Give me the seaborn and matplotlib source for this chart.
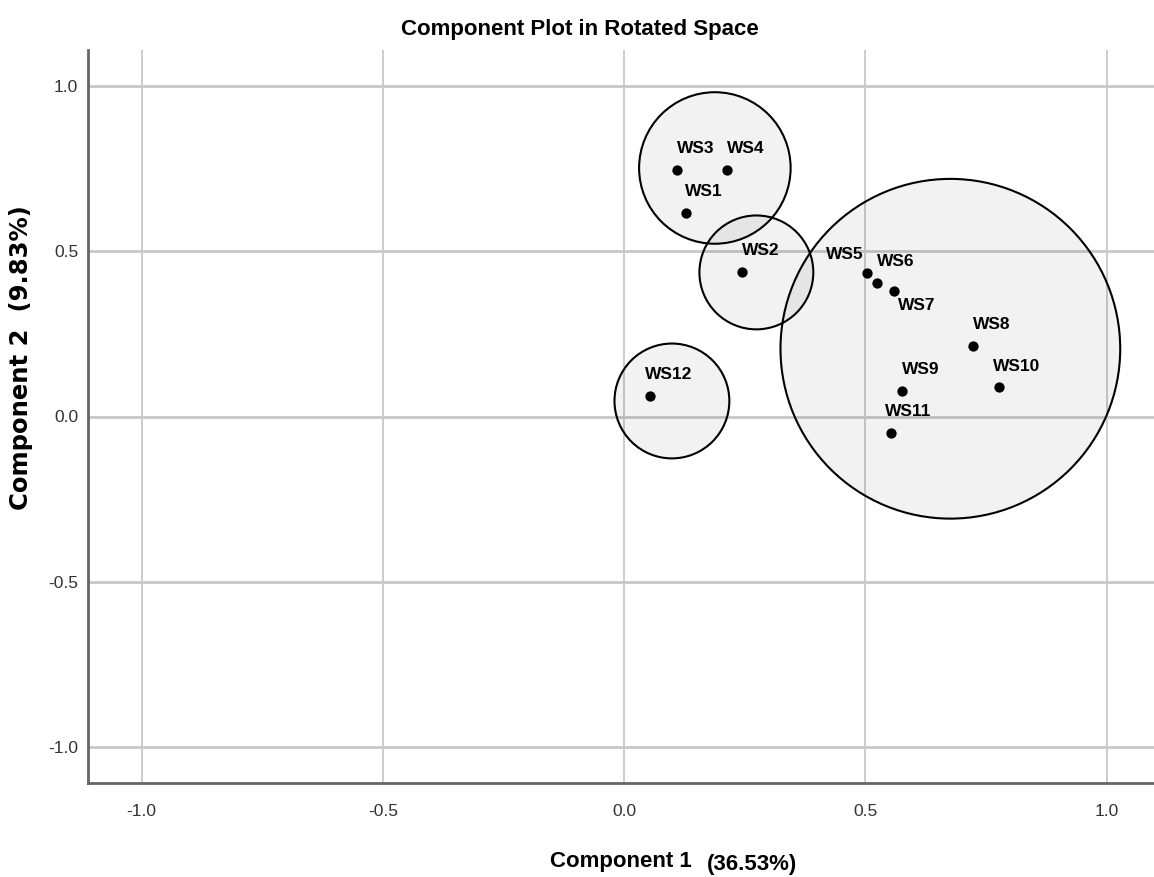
import matplotlib
matplotlib.use('Agg')
import matplotlib.pyplot as plt
from matplotlib.patches import Ellipse
import seaborn as sns
import pandas as pd

# component loadings
labels = ['WS1', 'WS2', 'WS3', 'WS4', 'WS5', 'WS6', 'WS7', 'WS8', 'WS9', 'WS10', 'WS11', 'WS12']
comp1 = [0.128, 0.245, 0.109, 0.213, 0.504, 0.524, 0.559, 0.723, 0.575, 0.776, 0.552, 0.054]
comp2 = [0.616, 0.437, 0.745, 0.745, 0.434, 0.404, 0.380, 0.214, 0.076, 0.088, -0.049, 0.062]

# label offsets in points (dx, dy) and alignment
label_dx = [-1, 0, 0, 0, -3, 0, 3, 0, 0, -4, -4, -4]
label_dy = [10, 10, 10, 10, 8, 10, -5, 10, 10, 10, 10, 10]
label_ha = ['left', 'left', 'left', 'left', 'right', 'left', 'left', 'left', 'left', 'left', 'left', 'left']
label_va = ['bottom', 'bottom', 'bottom', 'bottom', 'bottom', 'bottom', 'top', 'bottom', 'bottom', 'bottom', 'bottom', 'bottom']

# group circles: centre (x, y) and radius in x-axis units
circle_x = [0.188, 0.274, 0.099, 0.676]
circle_y = [0.752, 0.436, 0.047, 0.205]
circle_r = [0.157, 0.118, 0.119, 0.352]

ticks = [-1.0, -0.5, 0.0, 0.5, 1.0]
tick_labels = ['-1.0', '-0.5', '0.0', '0.5', '1.0']

df = pd.DataFrame({'c1': comp1, 'c2': comp2, 'label': labels})

sns.set_style('white')
fam = ['Liberation Sans', 'DejaVu Sans']
plt.rcParams['font.family'] = fam
plt.rcParams['text.color'] = 'black'

fig = plt.figure(figsize=(11.54, 8.77), dpi=100)
ax = fig.add_axes([88 / 1154, 1 - 783 / 877, 1 - 88 / 1154, (783 - 50) / 877])

xmin, xmax = -1.111, 1.098
ymin, ymax = -1.109, 1.109
ax.set_xlim(xmin, xmax)
ax.set_ylim(ymin, ymax)

# px per unit, to keep the circles round
bbox = ax.get_window_extent()
sx = bbox.width / (xmax - xmin)
sy = bbox.height / (ymax - ymin)

for v in ticks:
    ax.axvline(v, color='#c8c8c8', lw=1.3, zorder=0)
    ax.axhline(v, color='#c8c8c8', lw=2.0, zorder=0)

for cx, cy, r in zip(circle_x, circle_y, circle_r):
    e = Ellipse((cx, cy), width=2 * r, height=2 * r * sx / sy,
                facecolor=(0, 0, 0, 0.05), edgecolor='black', lw=1.5, zorder=1)
    ax.add_patch(e)

sns.scatterplot(data=df, x='c1', y='c2', ax=ax, color='black', s=55,
                edgecolor='black', linewidth=0, zorder=3, legend=False)

for i, lab in enumerate(labels):
    ax.annotate(lab, (comp1[i], comp2[i]), xytext=(label_dx[i], label_dy[i]),
                textcoords='offset points', ha=label_ha[i], va=label_va[i],
                fontsize=12.5, fontweight='bold', color='black', zorder=4)

ax.set_xticks(ticks)
ax.set_xticklabels(tick_labels)
ax.set_yticks(ticks)
ax.set_yticklabels(tick_labels)
ax.tick_params(axis='y', length=0, labelsize=12.5, labelcolor='#333333', pad=7)
ax.tick_params(axis='x', length=0, labelsize=12.5, labelcolor='#333333', pad=15)

for side in ['top', 'right']:
    ax.spines[side].set_visible(False)
for side in ['left', 'bottom']:
    ax.spines[side].set_color('#666666')
    ax.spines[side].set_linewidth(2)

ax.set_xlabel('')
ax.set_ylabel('')

fig.text(580 / 1154, 1 - 29 / 877, 'Component Plot in Rotated Space', ha='center', va='center',
         fontsize=16, fontweight='bold')
fig.text(692 / 1154, 1 - 867 / 877, 'Component 1', ha='right', va='baseline',
         fontsize=16, fontweight='bold')
fig.text(707 / 1154, 1 - 870 / 877, '(36.53%)', ha='left', va='baseline',
         fontsize=16, fontweight='bold')
fig.text(21 / 1154, 1 - 358 / 877, 'Component 2  (9.83%)', ha='center', va='center',
         rotation=90, fontsize=17.5, fontweight='bold', family=['DejaVu Sans'])

fig.savefig('out.png', dpi=100)
